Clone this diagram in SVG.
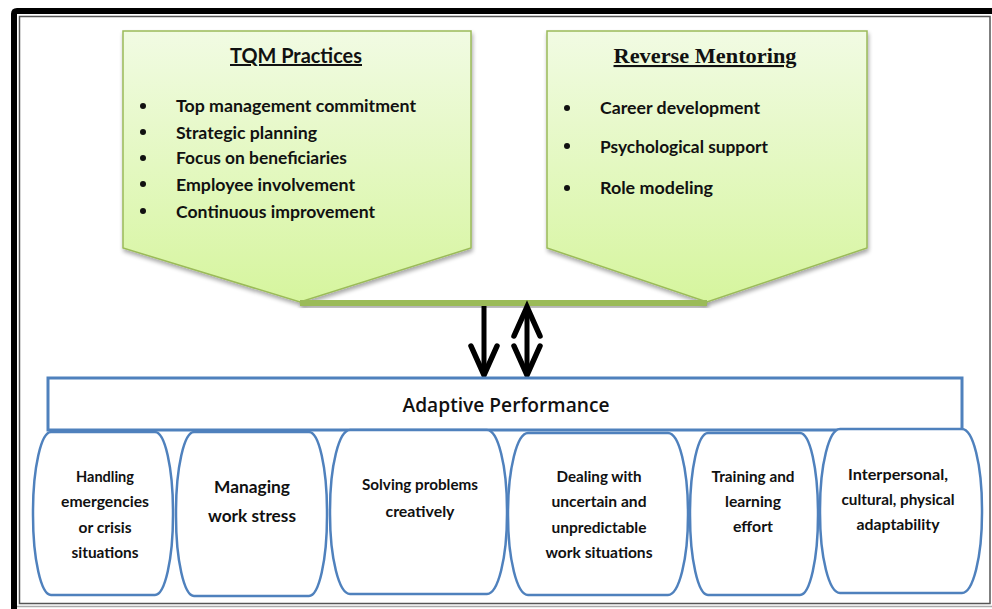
<svg xmlns="http://www.w3.org/2000/svg" width="992" height="609" viewBox="0 0 992 609">
  <defs>
    <linearGradient id="greenFill" x1="0" y1="0" x2="0" y2="1">
      <stop offset="0" stop-color="#F1FBE3"/>
      <stop offset="1" stop-color="#D6F59E"/>
    </linearGradient>
    <filter id="shadow" x="-10%" y="-10%" width="120%" height="130%">
      <feGaussianBlur in="SourceAlpha" stdDeviation="2"/>
      <feOffset dx="1" dy="3" result="off"/>
      <feComponentTransfer><feFuncA type="linear" slope="0.35"/></feComponentTransfer>
      <feMerge><feMergeNode/><feMergeNode in="SourceGraphic"/></feMerge>
    </filter>
  </defs>
  <style>
    .frame-outer { fill: none; stroke: #000; stroke-width: 6; }
    .frame-inner { fill: none; stroke: #555; stroke-width: 1.5; }
    .panel { fill: url(#greenFill); stroke: #9BBB59; stroke-width: 1.5; }
    .bar { fill: #9BBB59; }
    .box { fill: #fff; stroke: #4F81BD; stroke-width: 3; }
    .pill { fill: #fff; stroke: #4F81BD; stroke-width: 2.5; }
    .t { font-family: Lato, "Open Sans", "Liberation Sans", sans-serif; font-weight: bold; fill: #111; }
    .title { font-size: 20px; text-decoration: underline; }
    .serif { font-family: "Liberation Serif", "DejaVu Serif", serif; font-weight: bold; font-size: 21px; fill: #111; text-decoration: underline; }
    .item { font-size: 17px; }
    .bullet { fill: #111; }
    .main { font-family: "Open Sans", Lato, sans-serif; font-size: 20px; font-weight: 600; }
    .small { font-size: 15px; text-anchor: middle; }
    .mid { font-size: 17px; text-anchor: middle; }
    .arrow { fill: none; stroke: #000; stroke-width: 5; }
    .head { fill: none; stroke: #000; stroke-width: 5.5; stroke-linejoin: miter; stroke-linecap: round; }
  </style>

  <rect width="992" height="609" fill="#fff"/>

  <!-- page frame -->
  <path class="frame-outer" d="M14 609 V14 Q14 11 17 11 H992"/>
  <rect class="frame-inner" x="19.5" y="16.5" width="970.5" height="587"/>
  <line x1="17" y1="606.5" x2="992" y2="606.5" stroke="#aaa" stroke-width="1.5"/>

  <!-- TQM Practices panel -->
  <g id="tqm">
    <path class="panel" filter="url(#shadow)" d="M123 31 H471 V248 L300 302 L123 248 Z"/>
    <text class="t title" x="296" y="63" text-anchor="middle" textLength="132" lengthAdjust="spacingAndGlyphs">TQM Practices</text>
    <circle class="bullet" cx="143" cy="106" r="3"/>
    <circle class="bullet" cx="143" cy="132" r="3"/>
    <circle class="bullet" cx="143" cy="158" r="3"/>
    <circle class="bullet" cx="143" cy="184" r="3"/>
    <circle class="bullet" cx="143" cy="211" r="3"/>
    <text class="t item" x="176" y="112" textLength="240" lengthAdjust="spacingAndGlyphs">Top management commitment</text>
    <text class="t item" x="176" y="139" textLength="141" lengthAdjust="spacingAndGlyphs">Strategic planning</text>
    <text class="t item" x="176" y="164" textLength="171" lengthAdjust="spacingAndGlyphs">Focus on beneficiaries</text>
    <text class="t item" x="176" y="191" textLength="179" lengthAdjust="spacingAndGlyphs">Employee involvement</text>
    <text class="t item" x="176" y="218" textLength="199" lengthAdjust="spacingAndGlyphs">Continuous improvement</text>
  </g>

  <!-- Reverse Mentoring panel -->
  <g id="reverse-mentoring">
    <path class="panel" filter="url(#shadow)" d="M547 31 H867 V248 L707 302 L547 248 Z"/>
    <text class="serif" x="705" y="63" text-anchor="middle" textLength="183" lengthAdjust="spacingAndGlyphs">Reverse Mentoring</text>
    <circle class="bullet" cx="567" cy="108" r="3"/>
    <circle class="bullet" cx="567" cy="146" r="3"/>
    <circle class="bullet" cx="567" cy="188" r="3"/>
    <text class="t item" x="600" y="114" textLength="160" lengthAdjust="spacingAndGlyphs">Career development</text>
    <text class="t item" x="600" y="153" textLength="168" lengthAdjust="spacingAndGlyphs">Psychological support</text>
    <text class="t item" x="600" y="194" textLength="113" lengthAdjust="spacingAndGlyphs">Role modeling</text>
  </g>

  <!-- connectors -->
  <g id="connectors">
    <rect class="bar" filter="url(#shadow)" x="300" y="300" width="407" height="6"/>
    <line class="arrow" x1="484" y1="306" x2="484" y2="374"/>
    <polyline class="head" points="471,346 484,375 497,346"/>
    <line class="arrow" x1="527" y1="308" x2="527" y2="374"/>
    <polyline class="head" points="514,336 527,307 540,336"/>
    <polyline class="head" points="514,346 527,375 540,346"/>
  </g>

  <!-- Adaptive Performance header -->
  <g id="adaptive-performance">
    <rect class="box" x="48" y="378" width="914" height="52"/>
    <text class="t main" x="506" y="412" text-anchor="middle" textLength="207" lengthAdjust="spacingAndGlyphs">Adaptive Performance</text>
  </g>

  <!-- dimensions -->
  <g id="handling-emergencies">
    <rect class="pill" x="33" y="432" width="140" height="163" rx="18" ry="80"/>
    <text class="t small" x="105" y="482" textLength="58" lengthAdjust="spacingAndGlyphs">Handling</text>
    <text class="t small" x="105" y="507" textLength="88" lengthAdjust="spacingAndGlyphs">emergencies</text>
    <text class="t small" x="105" y="533" textLength="53" lengthAdjust="spacingAndGlyphs">or crisis</text>
    <text class="t small" x="105" y="558" textLength="67" lengthAdjust="spacingAndGlyphs">situations</text>
  </g>
  <g id="managing-stress">
    <rect class="pill" x="176" y="432" width="151" height="164" rx="18" ry="80"/>
    <text class="t mid" x="252" y="493" textLength="76" lengthAdjust="spacingAndGlyphs">Managing</text>
    <text class="t mid" x="252" y="522" textLength="88" lengthAdjust="spacingAndGlyphs">work stress</text>
  </g>
  <g id="solving-problems">
    <rect class="pill" x="330" y="430" width="177" height="164" rx="20" ry="80"/>
    <text class="t small" x="420" y="490" textLength="116" lengthAdjust="spacingAndGlyphs">Solving problems</text>
    <text class="t small" x="420" y="517" textLength="69" lengthAdjust="spacingAndGlyphs">creatively</text>
  </g>
  <g id="uncertain-situations">
    <rect class="pill" x="508" y="433" width="180" height="162" rx="20" ry="80"/>
    <text class="t small" x="599" y="482" textLength="85" lengthAdjust="spacingAndGlyphs">Dealing with</text>
    <text class="t small" x="599" y="507" textLength="95" lengthAdjust="spacingAndGlyphs">uncertain and</text>
    <text class="t small" x="599" y="533" textLength="95" lengthAdjust="spacingAndGlyphs">unpredictable</text>
    <text class="t small" x="599" y="558" textLength="107" lengthAdjust="spacingAndGlyphs">work situations</text>
  </g>
  <g id="training-learning">
    <rect class="pill" x="690" y="433" width="128" height="162" rx="18" ry="80"/>
    <text class="t small" x="753" y="482" textLength="83" lengthAdjust="spacingAndGlyphs">Training and</text>
    <text class="t small" x="753" y="507" textLength="56" lengthAdjust="spacingAndGlyphs">learning</text>
    <text class="t small" x="753" y="532" textLength="40" lengthAdjust="spacingAndGlyphs">effort</text>
  </g>
  <g id="interpersonal-adaptability">
    <rect class="pill" x="820" y="429" width="162" height="164" rx="20" ry="80"/>
    <text class="t small" x="898" y="480" textLength="100" lengthAdjust="spacingAndGlyphs">Interpersonal,</text>
    <text class="t small" x="898" y="505" textLength="113" lengthAdjust="spacingAndGlyphs">cultural, physical</text>
    <text class="t small" x="898" y="530" textLength="83" lengthAdjust="spacingAndGlyphs">adaptability</text>
  </g>
</svg>
